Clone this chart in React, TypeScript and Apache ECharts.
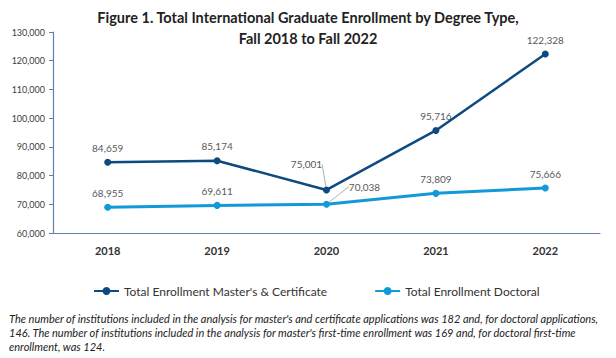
import React, { useEffect, useRef } from "react";
import * as echarts from "echarts";

const years = ["2018", "2019", "2020", "2021", "2022"];
const mastersValues = [84659, 85174, 75001, 95716, 122328];
const doctoralValues = [68955, 69611, 70038, 73809, 75666];
const mastersName = "Total Enrollment Master's & Certificate";
const doctoralName = "Total Enrollment Doctoral";
const titleLines = [
  "Figure 1. Total International Graduate Enrollment by Degree Type,",
  "Fall 2018 to Fall 2022",
];
const footnoteLines = [
  "The number of institutions included in the analysis for master's and certificate applications was 182 and, for doctoral applications,",
  "146. The number of institutions included in the analysis for master's first-time enrollment was 169 and, for doctoral first-time",
  "enrollment, was 124.",
];

const fmt = (v: number) => v.toLocaleString("en-US");

export default function App() {
  const ref = useRef<HTMLDivElement>(null);
  useEffect(() => {
    if (!ref.current) return;
    const chart = echarts.init(ref.current, undefined, { renderer: "svg" });
    const labelBase = {
      show: true,
      position: "top",
      distance: 6,
      color: "#595959",
      fontSize: 10,
      fontFamily: "Lato",
      formatter: (p: any) => fmt(p.value),
    };
    chart.setOption({
      animation: false,
      backgroundColor: "#ffffff",
      title: {
        text: titleLines.join("\n"),
        left: "center",
        top: 2,
        textStyle: {
          fontFamily: "Lato",
          fontWeight: "bold",
          fontSize: 14.5,
          lineHeight: 21,
          color: "#222222",
        },
      },
      grid: { left: 53, right: 16, top: 32, bottom: 125 },
      xAxis: {
        type: "category",
        data: years,
        boundaryGap: true,
        axisLine: { lineStyle: { color: "#5d82ad", width: 1.2 } },
        axisTick: { show: false },
        axisLabel: {
          color: "#333333",
          fontWeight: "bold",
          fontSize: 11,
          fontFamily: "Lato",
          margin: 12,
        },
      },
      yAxis: {
        type: "value",
        min: 60000,
        max: 130000,
        interval: 10000,
        splitLine: { show: false },
        axisLine: { show: true, lineStyle: { color: "#5d82ad", width: 1.2 } },
        axisTick: { show: true, length: 4, lineStyle: { color: "#5d82ad" } },
        axisLabel: {
          color: "#404040",
          fontSize: 9,
          fontFamily: "Lato",
          margin: 8,
          formatter: (v: number) => fmt(v),
        },
      },
      legend: {
        top: 280,
        left: 88,
        itemWidth: 25,
        itemHeight: 10,
        itemGap: 47,
        textStyle: { color: "#333333", fontSize: 12, fontFamily: "Lato" },
        data: [mastersName, doctoralName],
      },
      labelLayout: (params: any) => {
        if (params.seriesIndex === 0 && params.dataIndex === 2) {
          return { dx: -20, dy: -11 };
        }
        if (params.seriesIndex === 1 && params.dataIndex === 2) {
          return { dx: 38, dy: -3 };
        }
        return {};
      },
      series: [
        {
          name: mastersName,
          type: "line",
          data: mastersValues.map((v, i) =>
            i === 2 ? { value: v, labelLine: { show: true } } : v
          ),
          symbol: "circle",
          symbolSize: 7,
          lineStyle: { color: "#0d4a80", width: 2.5 },
          itemStyle: { color: "#0d4a80" },
          label: labelBase,
          labelLine: { show: false, lineStyle: { color: "#b0b0b0", width: 1 } },
          z: 3,
        },
        {
          name: doctoralName,
          type: "line",
          data: doctoralValues.map((v, i) =>
            i === 2 ? { value: v, labelLine: { show: true } } : v
          ),
          symbol: "circle",
          symbolSize: 7,
          lineStyle: { color: "#129ad8", width: 3 },
          itemStyle: { color: "#129ad8" },
          label: labelBase,
          labelLine: { show: false, lineStyle: { color: "#b0b0b0", width: 1 } },
          z: 2,
        },
      ],
      graphic: [
        {
          type: "text",
          left: 9,
          top: 311,
          style: {
            text: footnoteLines.join("\n"),
            font: "italic 11px Lato",
            lineHeight: 14,
            fill: "#222222",
          },
        },
      ],
    });
    return () => chart.dispose();
  }, []);
  return (
    <div
      ref={ref}
      style={{ position: "fixed", left: 0, top: 0, width: 616, height: 358 }}
    />
  );
}
